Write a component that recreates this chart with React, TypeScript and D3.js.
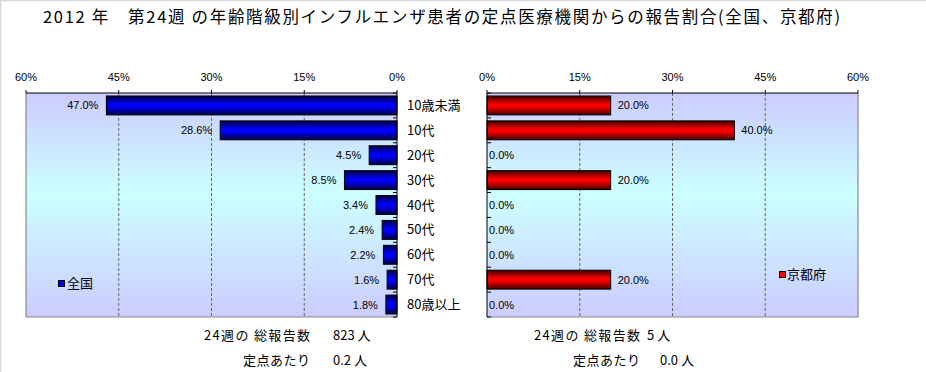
import React from "react";
import * as d3 from "d3";

const categories = ["10歳未満", "10代", "20代", "30代", "40代", "50代", "60代", "70代", "80歳以上"];
const nationalValues = [47.0, 28.6, 4.5, 8.5, 3.4, 2.4, 2.2, 1.6, 1.8];
const kyotoValues = [20.0, 40.0, 0.0, 20.0, 0.0, 0.0, 0.0, 20.0, 0.0];
const tickValues = [0, 15, 30, 45, 60];
const title = "2012 年　第24週 の年齢階級別インフルエンザ患者の定点医療機関からの報告割合(全国、京都府)";
const nationalName = "全国";
const kyotoName = "京都府";
const nationalSummary = ["823 人", "0.2 人"];
const kyotoSummary = ["5 人", "0.0 人"];
const summaryLabels = ["24週の 総報告数", "定点あたり"];

const JP = "'Noto Sans CJK JP', 'Noto Sans', sans-serif";
const NUM = "'Liberation Sans', Arial, sans-serif";

export default function App() {
  const top = 93, bottom = 317;
  const xL = d3.scaleLinear().domain([0, 60]).range([397, 26]);
  const xR = d3.scaleLinear().domain([0, 60]).range([487, 858]);
  const y = d3.scaleBand<string>().domain(categories).range([top, bottom]).paddingInner(0.24).paddingOuter(0.12);
  const step = y.step();
  const fmt = (v: number) => v.toFixed(1) + "%";

  const panel = (x: d3.ScaleLinear<number, number>) => {
    const x0 = Math.min(x(0), x(60));
    const x1 = Math.max(x(0), x(60));
    const outerX = x(60);
    return (
      <g>
        <rect x={x0} y={top} width={x1 - x0} height={bottom - top} fill="url(#bg)" />
        {tickValues.filter(t => t > 0 && t < 60).map(t => (
          <line key={t} x1={x(t)} x2={x(t)} y1={top} y2={bottom} stroke="#666" strokeDasharray="3,2" strokeWidth={1} />
        ))}
        <line x1={outerX} x2={outerX} y1={top} y2={bottom} stroke="#888" strokeWidth={1.2} />
        <line x1={x0} x2={x1} y1={bottom} y2={bottom} stroke="#888" strokeWidth={1.2} />
        <line x1={x0} x2={x1} y1={top} y2={top} stroke="#000" strokeWidth={1} />
        {tickValues.map(t => (
          <line key={"tk" + t} x1={x(t)} x2={x(t)} y1={top - 3} y2={top} stroke="#000" strokeWidth={1} />
        ))}
        {tickValues.map(t => (
          <text key={"tl" + t} x={x(t)} y={81} textAnchor="middle" fontFamily={NUM} fontSize={11} fill="#000">{t + "%"}</text>
        ))}
      </g>
    );
  };

  const bars = (vals: number[], x: d3.ScaleLinear<number, number>, isLeft: boolean, grad: string) => (
    <g>
      {vals.map((v, i) => {
        const c = categories[i];
        const yy = y(c)!;
        const xa = x(0), xb = x(v);
        return (
          <g key={c}>
            {v > 0 && (
              <rect x={Math.min(xa, xb)} y={yy} width={Math.abs(xb - xa)} height={y.bandwidth()} fill={`url(#${grad})`} stroke="#000" strokeWidth={1} />
            )}
            <text
              x={isLeft ? xb - 8 : xb + (v > 0 ? 7 : 2)}
              y={yy + y.bandwidth() / 2 + 4}
              textAnchor={isLeft ? "end" : "start"}
              fontFamily={NUM} fontSize={11} fill="#000">{fmt(v)}</text>
          </g>
        );
      })}
      <line x1={x(0)} x2={x(0)} y1={top} y2={bottom} stroke="#000" strokeWidth={1} />
      {d3.range(categories.length + 1).map(i => {
        const yy = top + i * step;
        const ax = x(0);
        return <line key={"yt" + i} x1={ax} x2={isLeft ? ax - 4 : ax + 4} y1={yy} y2={yy} stroke="#000" strokeWidth={1} />;
      })}
    </g>
  );

  const sumLen = [106, 67];

  return (
    <svg width={926} height={372} style={{ position: "absolute", left: 0, top: 0, background: "#fff" }}>
      <defs>
        <linearGradient id="bg" x1="0" y1="0" x2="0" y2="1">
          <stop offset="0%" stopColor="#ccccff" />
          <stop offset="45%" stopColor="#ccffff" />
          <stop offset="100%" stopColor="#ccccff" />
        </linearGradient>
        <linearGradient id="blueBar" x1="0" y1="0" x2="0" y2="1">
          <stop offset="0%" stopColor="#000040" />
          <stop offset="45%" stopColor="#0000ff" />
          <stop offset="60%" stopColor="#0000ee" />
          <stop offset="100%" stopColor="#000040" />
        </linearGradient>
        <linearGradient id="redBar" x1="0" y1="0" x2="0" y2="1">
          <stop offset="0%" stopColor="#400000" />
          <stop offset="45%" stopColor="#ff0000" />
          <stop offset="60%" stopColor="#ee0000" />
          <stop offset="100%" stopColor="#400000" />
        </linearGradient>
      </defs>
      <rect x={0} y={0} width={926} height={372} fill="#fff" />
      <line x1={0} x2={926} y1={0.5} y2={0.5} stroke="#d8d8d8" strokeWidth={1.5} />
      <line x1={0.5} x2={0.5} y1={0} y2={372} stroke="#d8d8d8" strokeWidth={1.5} />

      <text x={43} y={23} fontFamily={JP} fontSize={16.5} fill="#000" textLength={797} lengthAdjust="spacing">{title}</text>

      {panel(xL)}
      {panel(xR)}
      {bars(nationalValues, xL, true, "blueBar")}
      {bars(kyotoValues, xR, false, "redBar")}

      {categories.map(c => (
        <text key={"cat" + c} x={407} y={y(c)! + y.bandwidth() / 2 + 4.5} fontFamily={JP} fontSize={13} fill="#000">{c}</text>
      ))}

      <rect x={58.5} y={280.5} width={6} height={6} fill="#0000ff" stroke="#000" strokeWidth={1} />
      <text x={67} y={288} fontFamily={JP} fontSize={13} fill="#000">{nationalName}</text>
      <rect x={779.5} y={271.5} width={6} height={6} fill="#ff0000" stroke="#000" strokeWidth={1} />
      <text x={787} y={279} fontFamily={JP} fontSize={13} fill="#000">{kyotoName}</text>

      {summaryLabels.map((s, i) => (
        <g key={"sum" + i}>
          <text x={310 - sumLen[i]} y={340 + i * 25} fontFamily={JP} fontSize={13} fill="#000" textLength={sumLen[i]} lengthAdjust="spacing">{s}</text>
          <text x={333} y={340 + i * 25} fontFamily={JP} fontSize={13} fill="#000">{nationalSummary[i]}</text>
          <text x={640 - sumLen[i]} y={340 + i * 25} fontFamily={JP} fontSize={13} fill="#000" textLength={sumLen[i]} lengthAdjust="spacing">{s}</text>
          <text x={i === 0 ? 647 : 660} y={340 + i * 25} fontFamily={JP} fontSize={13} fill="#000">{kyotoSummary[i]}</text>
        </g>
      ))}
    </svg>
  );
}
